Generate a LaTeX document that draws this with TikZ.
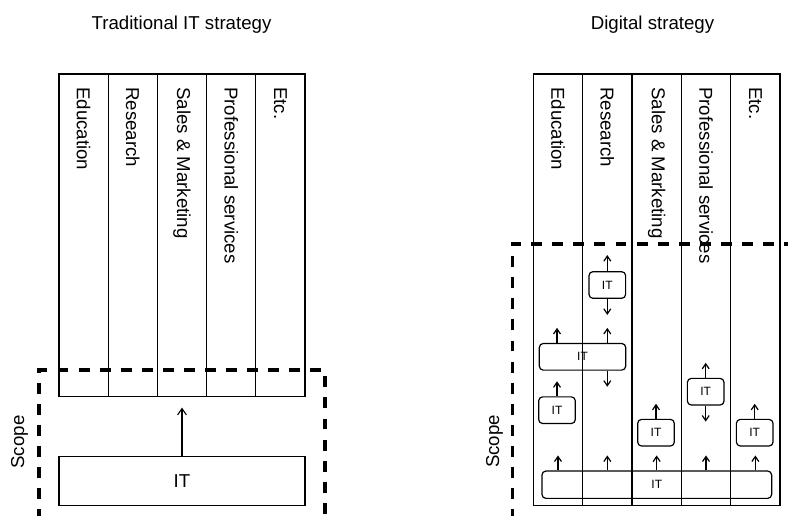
\documentclass[tikz,border=0pt]{standalone}
\usepackage{fontspec}
\setmainfont{Liberation Sans}
\usetikzlibrary{arrows.meta,positioning}
\tikzset{
  lanelabel/.style={rotate=-90,anchor=west,inner sep=0pt,font=\fontsize{14}{16}\selectfont},
  bigtext/.style={font=\fontsize{14}{16}\selectfont},
  itbox/.style={draw,line width=0.9pt,rounded corners=3pt,inner sep=0pt,
    minimum width=27.5pt,minimum height=20pt,font=\fontsize{9}{10}\selectfont},
  scopeline/.style={line width=2.3pt,dash pattern=on 8.2pt off 7.6pt},
  tip/.style={line width=0.9pt,-{Straight Barb[length=3.8pt,width=5.2pt]}},
  bigtip/.style={line width=0.8pt,-{Straight Barb[length=4.8pt,width=6.6pt]}}
}
\begin{document}
\begin{tikzpicture}[x=0.75pt,y=-0.75pt]
\clip (0,0) rectangle (788,516);
\pgfmathsetmacro{\w}{49.2}
\pgfmathsetmacro{\v}{49.34}
% traditional
\node[bigtext] (titleL) at (181.5,25) {Traditional IT strategy};
\foreach \lane [count=\i from 0] in {Education,Research,Sales \& Marketing,Professional services,Etc.} {
    \draw[line width=0.8pt] (59+\i*\w,74) rectangle ++(\w,322.5);
    \node[lanelabel] (l\i) at (59+\i*\w+0.5*\w,87) {\lane};
}
\node[draw,line width=0.8pt,minimum width=184.5pt,minimum height=37.3pt,bigtext] (itL) at (182,481) {IT};
\draw[bigtip] (itL.north) -- ++(0,-48);
\draw[scopeline] (39,520) -- (39,370) -- (325,370) -- (325,520);
\node[bigtext,rotate=90] (scopeL) at (19.5,442) {Scope};
% digital
\node[bigtext] (titleR) at (652.5,25) {Digital strategy};
\foreach \lane [count=\i from 0] in {Education,Research,Sales \& Marketing,Professional services,Etc.} {
    \draw[line width=0.8pt] (533.3+\i*\v,74) rectangle ++(\v,431.7);
    \node[lanelabel] (r\i) at (533.3+\i*\v+0.5*\v,87) {\lane};
}
\node[itbox] (it1) at (607.3,285) {IT};
\node[itbox,minimum width=64.8pt] (it2) at (582.5,356.8) {IT};
\node[itbox] (it3) at (557,410.2) {IT};
\node[itbox] (it4) at (656,432.7) {IT};
\node[itbox] (it5) at (705.7,391.7) {IT};
\node[itbox] (it6) at (754.7,432.7) {IT};
\node[itbox,minimum width=172.3pt,minimum height=20.5pt] (it7) at (656.8,484.7) {IT};
\draw[tip] (it1.north) -- ++(0,-16);
\draw[tip] (it1.south) -- ++(0,16);
\draw[tip] (it2.north -| it3) -- ++(0,-15);
\draw[tip] (it2.north -| it1) -- ++(0,-15);
\draw[tip] (it2.south -| it1) -- ++(0,16);
\draw[tip] (it3.north) -- ++(0,-15);
\draw[tip] (it4.north) -- ++(0,-15);
\draw[tip] (it5.north) -- ++(0,-15);
\draw[tip] (it5.south) -- ++(0,16);
\draw[tip] (it6.north) -- ++(0,-15);
\foreach \i in {0,...,4}
    \draw[tip] (it7.north -| r\i) -- ++(0,-15);
\draw[scopeline] (512.3,520) -- (512.3,244) -- (800,244);
\node[bigtext,rotate=90] (scopeR) at (494.5,441.5) {Scope};
\end{tikzpicture}
\end{document}
